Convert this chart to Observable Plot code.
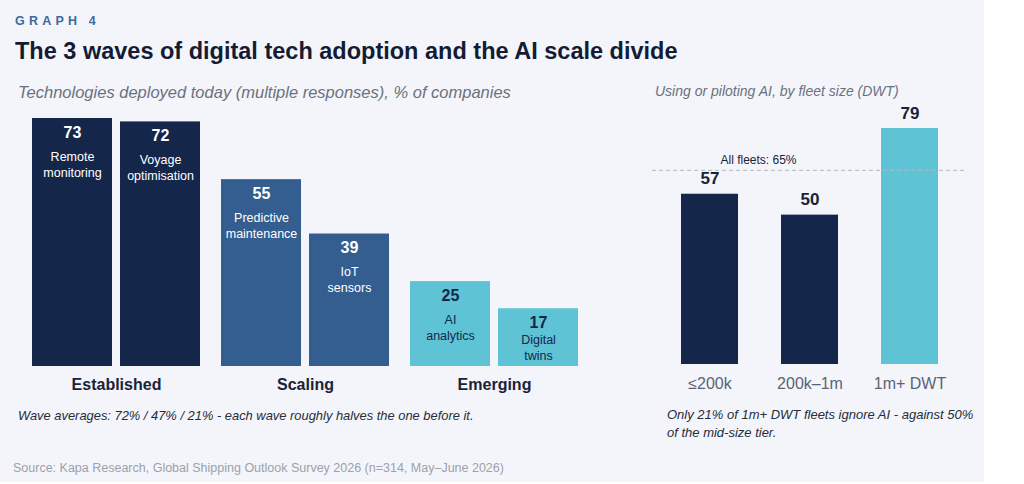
<!DOCTYPE html>
<html>
<head>
<meta charset="utf-8">
<script src="https://cdn.jsdelivr.net/npm/d3@7"></script>
<script src="https://cdn.jsdelivr.net/npm/@observablehq/plot@0.6"></script>
<style>
  html, body { margin: 0; padding: 0; background: #ffffff; }
  body { width: 1024px; height: 484px; position: relative; overflow: hidden; font-family: "Liberation Sans", Arial, sans-serif; }
  #card { position: absolute; left: 0; top: 0; width: 984px; height: 482px; background: #f3f5fb; }
  .abs { position: absolute; white-space: nowrap; }
  #kicker { left: 15px; top: 14px; font-size: 12.5px; font-weight: bold; letter-spacing: 4.2px; color: #3f6a98; }
  #title { left: 15px; top: 38px; font-size: 23.5px; font-weight: bold; color: #141c33; }
  #subL { left: 18px; top: 83px; font-size: 16.5px; font-style: italic; color: #6b717c; }
  #subR { left: 655px; top: 83px; font-size: 14px; font-style: italic; color: #6b717c; }
  #noteL { left: 18px; top: 408px; font-size: 12.9px; font-style: italic; color: #262c38; }
  #noteR { left: 667px; top: 406px; font-size: 13px; font-style: italic; color: #262c38; line-height: 18px; }
  #source { left: 13px; top: 461px; font-size: 12.5px; color: #9ba1ab; }
  #left { left: 0; top: 100px; }
  #right { left: 640px; top: 100px; }
</style>
</head>
<body>
<div id="card"></div>
<div class="abs" id="kicker">GRAPH 4</div>
<div class="abs" id="title">The 3 waves of digital tech adoption and the AI scale divide</div>
<div class="abs" id="subL">Technologies deployed today (multiple responses), % of companies</div>
<div class="abs" id="subR">Using or piloting AI, by fleet size (DWT)</div>
<div class="abs" id="left"></div>
<div class="abs" id="right"></div>
<div class="abs" id="noteL">Wave averages: 72% / 47% / 21% - each wave roughly halves the one before it.</div>
<div class="abs" id="noteR">Only 21% of 1m+ DWT fleets ignore AI - against 50%<br>of the mid-size tier.</div>
<div class="abs" id="source">Source: Kapa Research, Global Shipping Outlook Survey 2026 (n=314, May–June 2026)</div>
<script>
// ---- Data: left panel ----
const waves = ["Established", "Scaling", "Emerging"];
const techWaves = ["Established", "Established", "Scaling", "Scaling", "Emerging", "Emerging"];
const techNames = ["Remote\nmonitoring", "Voyage\noptimisation", "Predictive\nmaintenance", "IoT\nsensors", "AI\nanalytics", "Digital\ntwins"];
const techShares = [73, 72, 55, 39, 25, 17];

// ---- Data: right panel ----
const fleetSizes = ["≤200k", "200k–1m", "1m+ DWT"];
const aiShares = [57, 50, 79];
const allFleetsShare = 65;

// ---- Styles ----
const waveColors = ["#15264b", "#335e8f", "#5fc3d6"];
const navy = "#15264b";
const teal = "#5fc3d6";
const ink = "#1b2236";
const fontFamily = "'Liberation Sans', Arial, sans-serif";
const minShareForTopLabel = 20;

// build left table
const slotCounter = {};
const techData = techNames.map((name, i) => {
  const wave = techWaves[i];
  slotCounter[wave] = (slotCounter[wave] ?? -1) + 1;
  return { name, wave, share: techShares[i], slot: slotCounter[wave] };
});
const darkText = d => d.wave === "Emerging";

const leftPlot = Plot.plot({
  width: 600,
  height: 300,
  marginLeft: 32,
  marginRight: 22,
  marginTop: 18,
  marginBottom: 34,
  style: { fontFamily, color: ink, background: "transparent" },
  fx: { domain: waves, paddingInner: 21 / 189, paddingOuter: 0, label: null },
  x: { domain: [0, 1], paddingInner: 8 / 88, paddingOuter: 0, axis: null },
  y: { domain: [0, d3.max(techShares)], axis: null },
  color: { domain: waves, range: waveColors },
  marks: [
    Plot.barY(techData, { fx: "wave", x: "slot", y: "share", fill: "wave" }),
    // value labels
    Plot.text(techData, { filter: d => !darkText(d), fx: "wave", x: "slot", y: "share", text: d => String(d.share),
      lineAnchor: "top", dy: 8, fontSize: 16, fontWeight: "bold", fill: "white" }),
    Plot.text(techData, { filter: darkText, fx: "wave", x: "slot", y: "share", text: d => String(d.share),
      lineAnchor: "top", dy: 8, fontSize: 16, fontWeight: "bold", fill: navy }),
    // name labels under the value
    Plot.text(techData, { filter: d => !darkText(d), fx: "wave", x: "slot", y: "share", text: "name",
      lineAnchor: "top", dy: 31, fontSize: 12.5, lineHeight: 1.28, fill: "white" }),
    Plot.text(techData, { filter: d => darkText(d) && d.share >= minShareForTopLabel, fx: "wave", x: "slot", y: "share", text: "name",
      lineAnchor: "top", dy: 31, fontSize: 12.5, lineHeight: 1.28, fill: navy }),
    // short bars: name anchored to bar bottom
    Plot.text(techData, { filter: d => darkText(d) && d.share < minShareForTopLabel, fx: "wave", x: "slot", y: 0, text: "name",
      lineAnchor: "bottom", dy: -7, fontSize: 12.5, lineHeight: 1.28, fill: navy }),
    Plot.axisFx({ anchor: "bottom", tickSize: 0, tickPadding: 12, fontSize: 16, fontWeight: "bold", label: null })
  ]
});
document.getElementById("left").appendChild(leftPlot);

const fleetData = fleetSizes.map((size, i) => ({ size, share: aiShares[i] }));

const rightPlot = Plot.plot({
  width: 344,
  height: 300,
  marginLeft: 20,
  marginRight: 26,
  marginTop: 28,
  marginBottom: 36,
  style: { fontFamily, color: "#5b6372", background: "transparent" },
  x: { domain: fleetSizes, paddingInner: 0.433, paddingOuter: 0.2, label: null },
  y: { domain: [0, d3.max(aiShares)], axis: null },
  color: { domain: fleetSizes, range: [navy, navy, teal] },
  marks: [
    Plot.barY(fleetData, { x: "size", y: "share", fill: "size" }),
    Plot.ruleY([allFleetsShare], { stroke: "#b4b8c0", strokeDasharray: "4,3", strokeWidth: 1, insetLeft: -8, insetRight: -9 }),
    Plot.text([allFleetsShare], { y: d => d, text: d => `All fleets: ${d}%`, frameAnchor: "middle", dx: -51,
      lineAnchor: "bottom", dy: -6, fontSize: 12, fill: ink }),
    Plot.text(fleetData, { x: "size", y: "share", text: d => String(d.share), lineAnchor: "bottom", dy: -10,
      fontSize: 17, fontWeight: "bold", fill: ink }),
    Plot.axisX({ tickSize: 0, tickPadding: 13, fontSize: 16, label: null })
  ]
});
document.getElementById("right").appendChild(rightPlot);
</script>
</body>
</html>
